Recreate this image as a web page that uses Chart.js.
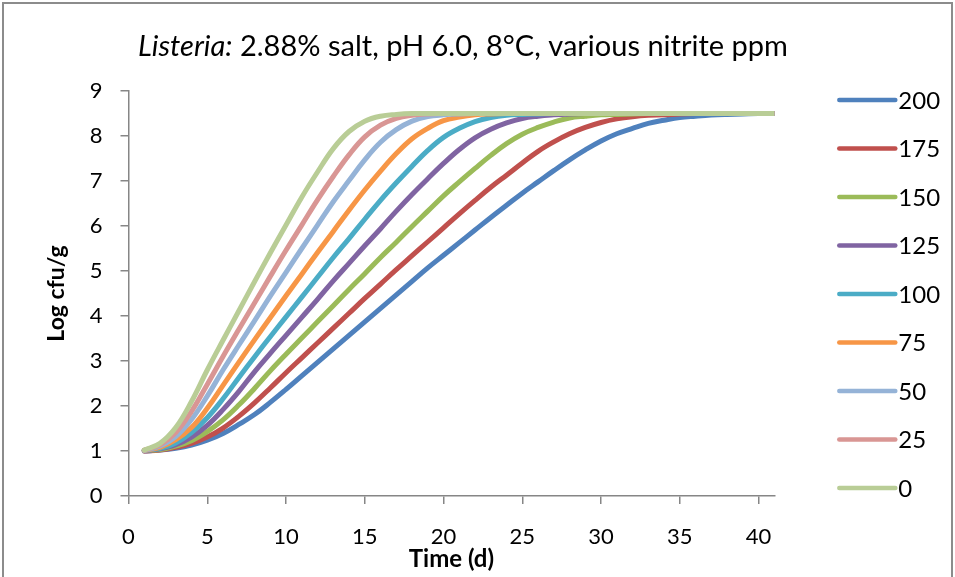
<!DOCTYPE html>
<html>
<head>
<meta charset="utf-8">
<title>Listeria growth curves</title>
<script src="https://cdn.jsdelivr.net/npm/chart.js@4.4.1/dist/chart.umd.min.js"></script>
<style>
  html, body { margin: 0; padding: 0; background: #ffffff; }
  #wrap { position: relative; width: 955px; height: 577px; }
</style>
</head>
<body>
<div id="wrap"><canvas id="growth"></canvas></div>
<script>
// Time axis (days)
const days = [1,2,3,4,5,6,7,8,9,10,11,12,13,14,15,16,17,18,19,20,21,22,23,24,25,26,27,28,29,30,31,32,33,34,35,36,37,38,39,40,41];

// Nitrite levels (ppm), legend labels
const nitriteLabels = ['0','25','50','75','100','125','150','175','200'];

// Predicted Log cfu/g for each nitrite level
const ppm0 = [1.02,1.17,1.52,2.10,2.80,3.46,4.11,4.76,5.40,6.02,6.64,7.20,7.72,8.10,8.33,8.44,8.48,8.50,8.50,8.50,8.50,8.50,8.50,8.50,8.50,8.50,8.50,8.50,8.50,8.50,8.50,8.50,8.50,8.50,8.50,8.50,8.50,8.50,8.50,8.50,8.50];
const ppm25 = [1.02,1.14,1.41,1.88,2.48,3.10,3.70,4.29,4.88,5.46,6.02,6.58,7.10,7.58,7.98,8.24,8.39,8.46,8.49,8.50,8.50,8.50,8.50,8.50,8.50,8.50,8.50,8.50,8.50,8.50,8.50,8.50,8.50,8.50,8.50,8.50,8.50,8.50,8.50,8.50,8.50];
const ppm50 = [1.01,1.11,1.32,1.70,2.22,2.80,3.35,3.89,4.44,4.97,5.50,6.02,6.54,7.01,7.47,7.86,8.14,8.33,8.43,8.47,8.49,8.50,8.50,8.50,8.50,8.50,8.50,8.50,8.50,8.50,8.50,8.50,8.50,8.50,8.50,8.50,8.50,8.50,8.50,8.50,8.50];
const ppm75 = [1.01,1.08,1.25,1.52,1.95,2.46,2.97,3.47,3.96,4.45,4.93,5.41,5.88,6.35,6.80,7.22,7.61,7.94,8.17,8.34,8.42,8.47,8.49,8.50,8.50,8.50,8.50,8.50,8.50,8.50,8.50,8.50,8.50,8.50,8.50,8.50,8.50,8.50,8.50,8.50,8.50];
const ppm100 = [1.01,1.06,1.18,1.41,1.74,2.16,2.63,3.09,3.54,3.98,4.42,4.86,5.30,5.72,6.15,6.57,6.96,7.33,7.68,7.97,8.17,8.32,8.41,8.46,8.48,8.49,8.50,8.50,8.50,8.50,8.50,8.50,8.50,8.50,8.50,8.50,8.50,8.50,8.50,8.50,8.50];
const ppm125 = [1.01,1.05,1.14,1.31,1.57,1.92,2.32,2.76,3.17,3.57,3.97,4.37,4.78,5.17,5.56,5.94,6.33,6.70,7.05,7.39,7.70,7.96,8.15,8.29,8.39,8.44,8.47,8.49,8.50,8.50,8.50,8.50,8.50,8.50,8.50,8.50,8.50,8.50,8.50,8.50,8.50];
const ppm150 = [1.01,1.03,1.11,1.23,1.43,1.69,2.02,2.39,2.78,3.15,3.51,3.87,4.23,4.59,4.94,5.30,5.64,5.99,6.33,6.67,6.98,7.28,7.57,7.83,8.04,8.19,8.31,8.40,8.44,8.47,8.48,8.49,8.50,8.50,8.50,8.50,8.50,8.50,8.50,8.50,8.50];
const ppm175 = [1.00,1.02,1.08,1.17,1.31,1.51,1.77,2.07,2.40,2.74,3.07,3.40,3.73,4.06,4.39,4.71,5.03,5.34,5.65,5.96,6.27,6.57,6.86,7.13,7.40,7.66,7.87,8.05,8.19,8.30,8.38,8.43,8.46,8.47,8.49,8.50,8.50,8.50,8.50,8.50,8.50];
const ppm200 = [1.00,1.02,1.06,1.13,1.24,1.39,1.59,1.81,2.08,2.37,2.67,2.97,3.27,3.57,3.87,4.17,4.47,4.77,5.07,5.35,5.63,5.91,6.19,6.46,6.73,6.98,7.23,7.47,7.69,7.89,8.05,8.17,8.28,8.35,8.41,8.44,8.465,8.48,8.49,8.50,8.50];

const seriesValues = [ppm0, ppm25, ppm50, ppm75, ppm100, ppm125, ppm150, ppm175, ppm200];
const seriesColors = ['#B9CD96','#D99694','#95B3D7','#F79646','#4BACC6','#8064A2','#9BBB59','#C0504D','#4F81BD'];

// Axis tick steps
const xTickStep = 5;
const yTickStep = 1;

const titleItalic = 'Listeria:';
const titleRest = ' 2.88% salt, pH 6.0, 8\u00B0C, various nitrite ppm';

const FONT = 'Lato, "Open Sans", sans-serif';
const AXIS_GREY = '#868686';

// White page with the grey frame around the chart
const framePlugin = {
  id: 'frame',
  beforeDraw(chart) {
    const ctx = chart.ctx;
    ctx.save();
    ctx.fillStyle = '#ffffff';
    ctx.fillRect(0, 0, chart.width, chart.height);
    ctx.strokeStyle = '#8c8c8c';
    ctx.lineWidth = 2;
    ctx.strokeRect(3, 3, chart.width - 6, chart.height + 10);
    ctx.restore();
  }
};

// Title with the genus name in italics
const titlePlugin = {
  id: 'mixedTitle',
  afterDraw(chart) {
    const ctx = chart.ctx;
    ctx.save();
    const fItalic = 'italic 29px ' + FONT;
    const fNormal = '29px ' + FONT;
    ctx.font = fItalic;
    const w1 = ctx.measureText(titleItalic).width;
    ctx.font = fNormal;
    const w2 = ctx.measureText(titleRest).width;
    const cx = 463;
    const x = cx - (w1 + w2) / 2;
    ctx.fillStyle = '#000000';
    ctx.textBaseline = 'alphabetic';
    ctx.font = fItalic;
    ctx.fillText(titleItalic, x, 56);
    ctx.font = fNormal;
    ctx.fillText(titleRest, x + w1, 56);
    ctx.restore();
  }
};

// Vertical legend on the right, highest nitrite level first
const legendPlugin = {
  id: 'sideLegend',
  afterDraw(chart) {
    const {ctx, chartArea} = chart;
    const ds = chart.data.datasets;
    const x0 = chartArea.right + 65;
    const len = 56;
    let y = chartArea.top + 9;
    ctx.save();
    ctx.font = '24px ' + FONT;
    ctx.textBaseline = 'middle';
    ctx.textAlign = 'left';
    for (let i = ds.length - 1; i >= 0; i--) {
      ctx.strokeStyle = ds[i].borderColor;
      ctx.lineWidth = 4.5;
      ctx.lineCap = 'round';
      ctx.beginPath();
      ctx.moveTo(x0, y);
      ctx.lineTo(x0 + len, y);
      ctx.stroke();
      ctx.fillStyle = '#000000';
      ctx.fillText(ds[i].label, x0 + len + 3, y + 1);
      y += 48.5;
    }
    ctx.restore();
  }
};

const datasets = nitriteLabels.map((label, k) => ({
  label: label,
  data: days.map((d, i) => ({ x: d, y: seriesValues[k][i] })),
  borderColor: seriesColors[k],
  backgroundColor: seriesColors[k],
  borderWidth: 5,
  borderCapStyle: 'round',
  borderJoinStyle: 'round',
  pointRadius: 0,
  pointHoverRadius: 0,
  fill: false,
  tension: 0.4
}));

new Chart(document.getElementById('growth'), {
  type: 'line',
  data: { datasets: datasets },
  plugins: [framePlugin, titlePlugin, legendPlugin],
  options: {
    responsive: true,
    maintainAspectRatio: false,
    animation: false,
    devicePixelRatio: 1,
    layout: { padding: { left: 30, top: 91, right: 180.7, bottom: 0 } },
    plugins: {
      legend: { display: false },
      title: { display: false },
      tooltip: { enabled: false }
    },
    scales: {
      x: {
        type: 'linear',
        min: 0,
        max: 41,
        afterFit(scale) { scale.height = 81; },
        ticks: {
          stepSize: xTickStep,
          includeBounds: false,
          maxRotation: 0,
          autoSkip: false,
          padding: 20,
          color: '#000000',
          font: { family: FONT, size: 22 }
        },
        grid: { display: true, drawOnChartArea: false, drawTicks: true, tickLength: 8, color: AXIS_GREY, lineWidth: 1.5 },
        border: { display: true, color: AXIS_GREY, width: 1.5 },
        title: {
          display: true,
          text: 'Time (d)',
          color: '#000000',
          font: { family: FONT, size: 24, weight: 'bold' },
          padding: { top: 0, bottom: 3 }
        }
      },
      y: {
        min: 0,
        max: 9,
        afterFit(scale) { scale.width = 98.5; },
        ticks: {
          stepSize: yTickStep,
          padding: 18,
          color: '#000000',
          font: { family: FONT, size: 22 }
        },
        grid: { display: true, drawOnChartArea: false, drawTicks: true, tickLength: 8, color: AXIS_GREY, lineWidth: 1.5 },
        border: { display: true, color: AXIS_GREY, width: 1.5 },
        title: {
          display: true,
          text: 'Log cfu/g',
          color: '#000000',
          font: { family: FONT, size: 23, weight: 'bold' },
          padding: { top: 13, bottom: 0 }
        }
      }
    }
  }
});
</script>
</body>
</html>
